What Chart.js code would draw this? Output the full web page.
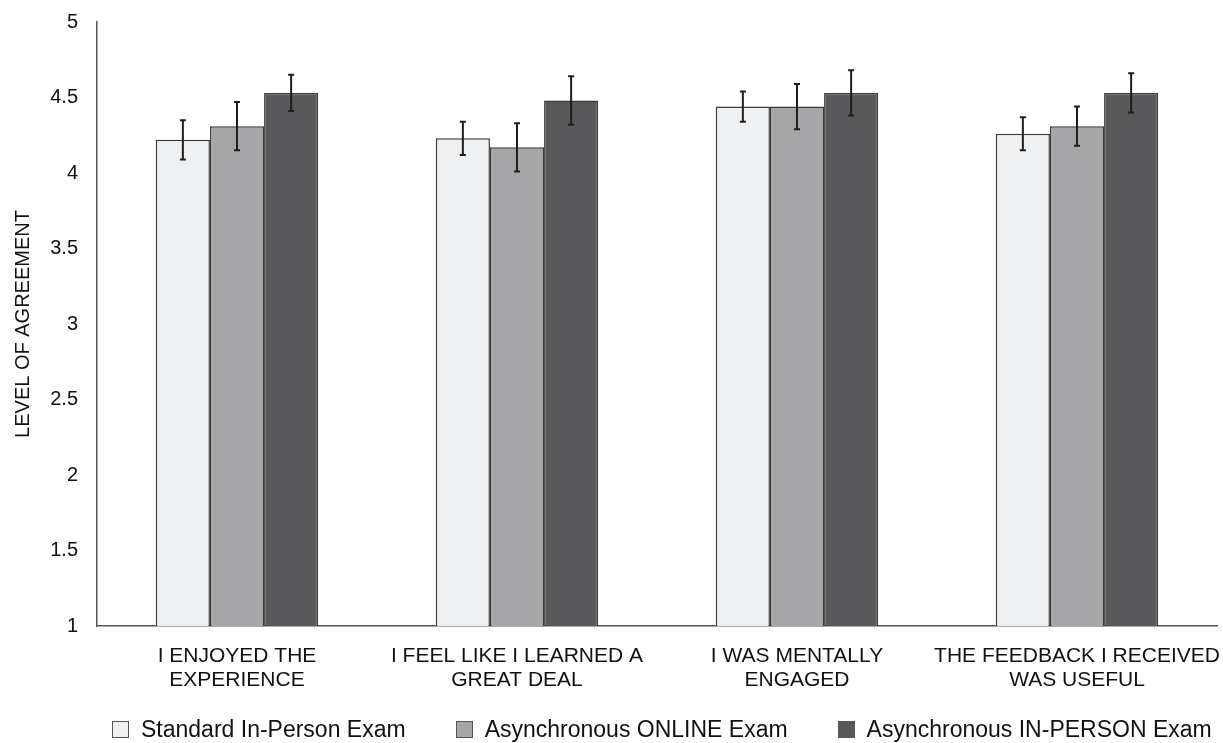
<!DOCTYPE html>
<html>
<head>
<meta charset="utf-8">
<script src="https://cdn.jsdelivr.net/npm/chart.js@4/dist/chart.umd.min.js"></script>
<style>
html,body{margin:0;padding:0;background:#fff;}
#wrap{width:1223px;height:743px;position:relative;}
#legend{position:absolute;left:112px;top:715px;display:flex;align-items:center;font-family:"Liberation Sans",Arial,Helvetica,sans-serif;font-size:23px;color:#111;line-height:28px;white-space:nowrap;}
#legend .item{display:flex;align-items:center;margin-right:50px;}
#legend .item:last-child{margin-right:0;}
#legend .box{width:15px;height:15px;border:1px solid #555;margin-right:12px;}
</style>
</head>
<body>
<div id="wrap"><canvas id="c"></canvas><div id="legend"></div></div>
<script>
// categories, series and error margins
const CATEGORIES=[['I ENJOYED THE','EXPERIENCE'],['I FEEL LIKE I LEARNED A','GREAT DEAL'],['I WAS MENTALLY','ENGAGED'],['THE FEEDBACK I RECEIVED','WAS USEFUL']];
const SERIES_NAMES=['Standard In-Person Exam','Asynchronous ONLINE Exam','Asynchronous IN-PERSON Exam'];
const standardVals=[4.22,4.23,4.44,4.26];
const onlineVals=[4.31,4.17,4.44,4.31];
const inPersonVals=[4.53,4.48,4.53,4.53];
const standardErr=[0.13,0.11,0.10,0.11];
const onlineErr=[0.16,0.16,0.15,0.13];
const inPersonErr=[0.12,0.16,0.15,0.13];
const Y_TICKS=[1,1.5,2,2.5,3,3.5,4,4.5,5];

const FONT='"Liberation Sans", Arial, Helvetica, sans-serif';
const COLORS=['#eff0f2','#a6a6a8','#58585a'];
const ERRS=[standardErr,onlineErr,inPersonErr];

// draws error bars through the y scale
const errorBars={
  id:'errorBars',
  afterDatasetsDraw(chart){
    const ctx=chart.ctx,ys=chart.scales.y;
    ctx.save();
    ctx.strokeStyle='#1e1e1e';ctx.lineWidth=2;
    chart.data.datasets.forEach((ds,di)=>{
      const meta=chart.getDatasetMeta(di);
      meta.data.forEach((el,i)=>{
        const v=ds.data[i],e=ERRS[di][i];
        const yt=ys.getPixelForValue(v+e),yb=ys.getPixelForValue(v-e),x=el.x;
        ctx.beginPath();
        ctx.moveTo(x,yt);ctx.lineTo(x,yb);
        ctx.moveTo(x-3,yt);ctx.lineTo(x+3,yt);
        ctx.moveTo(x-3,yb);ctx.lineTo(x+3,yb);
        ctx.stroke();
      });
    });
    ctx.restore();
  }
};

// html legend built from the chart's datasets
const htmlLegend={
  id:'htmlLegend',
  afterUpdate(chart){
    const el=document.getElementById('legend');
    el.innerHTML=chart.data.datasets.map(ds=>`<div class="item"><div class="box" style="background:${ds.backgroundColor}"></div><span>${ds.label}</span></div>`).join('');
  }
};

const mkSet=(label,data,i)=>({label,data,backgroundColor:COLORS[i],borderColor:'#3a3a3a',borderWidth:1.5,borderSkipped:false,categoryPercentage:0.58,barPercentage:1});

new Chart(document.getElementById('c'),{
  type:'bar',
  data:{labels:CATEGORIES,datasets:[
    mkSet(SERIES_NAMES[0],standardVals,0),
    mkSet(SERIES_NAMES[1],onlineVals,1),
    mkSet(SERIES_NAMES[2],inPersonVals,2)
  ]},
  plugins:[errorBars,htmlLegend],
  options:{
    responsive:true,maintainAspectRatio:false,animation:false,
    layout:{padding:{top:22,right:6,bottom:57,left:0}},
    scales:{
      x:{
        grid:{display:false,drawTicks:false},
        border:{display:true,color:'#555',width:1.5},
        ticks:{font:{family:FONT,size:21,lineHeight:1.15},color:'#111',padding:18,maxRotation:0,autoSkip:false},
        afterFit:s=>{s.height=60;s.paddingLeft=0;s.paddingRight=0;}
      },
      y:{
        min:1,max:5,
        afterBuildTicks:s=>{s.ticks=Y_TICKS.map(v=>({value:v}));},
        grid:{display:false,drawTicks:false},
        border:{display:true,color:'#555',width:1.5},
        ticks:{font:{family:FONT,size:20},color:'#111',padding:19,callback:v=>String(+v)},
        title:{display:true,text:'LEVEL OF AGREEMENT',font:{family:FONT,size:20},color:'#111',padding:{top:11,bottom:0}},
        afterFit:s=>{s.width=97;s.paddingTop=0;s.paddingBottom=0;}
      }
    },
    plugins:{
      legend:{display:false},
      tooltip:{enabled:false}
    }
  }
});
</script>
</body>
</html>
